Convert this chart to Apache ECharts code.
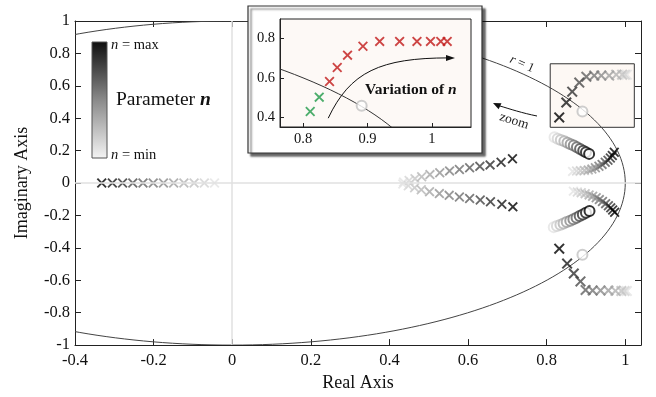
<!DOCTYPE html>
<html><head><meta charset="utf-8">
<script src="https://cdn.jsdelivr.net/npm/echarts@6/dist/echarts.min.js"></script>
<style>html,body{margin:0;padding:0;background:#fff}#c{width:656px;height:397px}</style>
</head><body><div id="c"></div>
<script>
// ---------- data (each list ordered from n = min to n = max) ----------
const realAxisPoles = [[-0.045,0],[-0.071,0],[-0.097,0],[-0.123,0],[-0.149,0],[-0.175,0],[-0.201,0],[-0.227,0],[-0.253,0],[-0.279,0],[-0.305,0],[-0.332,0]];
const midUpper = [[0.436,0.006],[0.450,0.016],[0.465,0.027],[0.482,0.039],[0.503,0.052],[0.528,0.064],[0.553,0.075],[0.578,0.084],[0.604,0.094],[0.630,0.103],[0.656,0.112],[0.684,0.128],[0.713,0.150]];
const midLower = [[0.434,-0.006],[0.448,-0.017],[0.464,-0.029],[0.481,-0.041],[0.502,-0.053],[0.527,-0.065],[0.552,-0.076],[0.578,-0.086],[0.604,-0.095],[0.631,-0.105],[0.657,-0.115],[0.686,-0.131],[0.714,-0.147]];
const zerosUpper = [[0.820,0.282],[0.828,0.274],[0.836,0.266],[0.845,0.258],[0.853,0.249],[0.861,0.240],[0.869,0.231],[0.877,0.221],[0.885,0.210],[0.893,0.200],[0.900,0.190],[0.908,0.180]];
const zerosLower = [[0.818,-0.272],[0.826,-0.265],[0.835,-0.257],[0.843,-0.249],[0.851,-0.241],[0.860,-0.232],[0.868,-0.223],[0.876,-0.214],[0.884,-0.204],[0.892,-0.194],[0.900,-0.184],[0.909,-0.173]];
const rimUpper = [[0.866,0.072],[0.876,0.074],[0.886,0.076],[0.896,0.078],[0.906,0.081],[0.915,0.086],[0.924,0.094],[0.933,0.104],[0.941,0.115],[0.949,0.128],[0.956,0.141],[0.962,0.155],[0.967,0.170],[0.972,0.190]];
const rimLower = [[0.868,-0.050],[0.878,-0.055],[0.888,-0.060],[0.898,-0.066],[0.908,-0.073],[0.917,-0.081],[0.926,-0.091],[0.934,-0.102],[0.942,-0.114],[0.950,-0.127],[0.957,-0.140],[0.963,-0.153],[0.968,-0.166],[0.973,-0.180]];
const outerUpper = [[1.004,0.669],[0.999,0.669],[0.992,0.669],[0.977,0.669],[0.959,0.663],[0.939,0.663],[0.921,0.663],[0.901,0.656],[0.883,0.620],[0.865,0.564],[0.850,0.497],[0.832,0.405]];
const outerLower = [[1.004,-0.666],[0.998,-0.666],[0.990,-0.666],[0.975,-0.665],[0.957,-0.663],[0.937,-0.663],[0.917,-0.663],[0.899,-0.660],[0.886,-0.607],[0.869,-0.558],[0.852,-0.497],[0.832,-0.405]];
const refRings = [[0.891,0.442],[0.891,-0.442]];
const zoomBox = [[0.809,0.344],[1.023,0.736]];
const unitCircle = [[0,0,1]];
// inset
const insetGreen = [[0.811,0.429],[0.825,0.502]];
const insetRed = [[0.841,0.582],[0.853,0.653],[0.869,0.716],[0.893,0.761],[0.919,0.786],[0.950,0.786],[0.977,0.786],[0.998,0.786],[1.014,0.786],[1.024,0.786]];
const insetRing = [[0.891,0.458]];
const insetXTicks = [0.8,0.9,1];
const insetYTicks = [0.4,0.6,0.8];
// ---------------------------------------------------------------------

const FONT = 'Liberation Serif';
const CROSS = 'path://M0,1.3L1.3,0L5,3.7L8.7,0L10,1.3L6.3,5L10,8.7L8.7,10L5,6.3L1.3,10L0,8.7L3.7,5Z';
const withLevel = arr => arr.map((p,i) => [p[0], p[1], arr.length > 1 ? i/(arr.length-1) : 1]);

function ellipseItem(stroke){
  return function(params, api){
    const c = api.coord([api.value(0), api.value(1)]);
    const r = api.value(2);
    const px = api.coord([api.value(0)+r, api.value(1)]);
    const py = api.coord([api.value(0), api.value(1)+r]);
    return {type:'ellipse', shape:{cx:c[0], cy:c[1], rx:Math.abs(px[0]-c[0]), ry:Math.abs(c[1]-py[1])},
            style:{fill:null, stroke:stroke, lineWidth:1}};
  };
}

function crossSeries(data, size){
  return {type:'scatter', xAxisIndex:0, yAxisIndex:0, symbol:CROSS, symbolSize:size||10,
          data:withLevel(data), z:4, silent:true, itemStyle:{borderWidth:0}};
}
function ringSeries(data){
  return {type:'scatter', xAxisIndex:0, yAxisIndex:0, symbol:'emptyCircle', symbolSize:10,
          data:withLevel(data), z:4, silent:true, itemStyle:{borderWidth:1.5}};
}

const axisLineStyle = {lineStyle:{color:'#222', width:1}};
const labelStyle = {color:'#111', fontFamily:FONT, fontSize:16.5};

const option = {
  animation:false,
  backgroundColor:'#fff',
  grid:[
    {left:75, top:21, right:15, bottom:50, show:false},
    {left:280, top:19, width:191, height:108, show:true, backgroundColor:'#fdf9f6', borderColor:'#222', borderWidth:1, z:11}
  ],
  xAxis:[
    {type:'value', gridIndex:0, min:-0.4, max:1.04, interval:0.2, position:'bottom',
     axisLine:{show:true, onZero:false, ...axisLineStyle}, axisTick:{inside:true, length:6, lineStyle:{color:'#222'}},
     axisLabel:{...labelStyle, margin:7, showMaxLabel:false}, splitLine:{show:false},
     name:'Real Axis', nameLocation:'middle', nameGap:26, nameTextStyle:{fontFamily:FONT, fontSize:18, color:'#111'}},
    {type:'value', gridIndex:0, min:-0.4, max:1.04, interval:0.2, position:'top',
     axisLine:{show:true, onZero:false, ...axisLineStyle}, axisTick:{inside:true, length:6, lineStyle:{color:'#222'}},
     axisLabel:{show:false}, splitLine:{show:false}},
    {type:'value', gridIndex:1, min:0.764, max:1.061, position:'bottom', z:12,
     axisLine:{show:true, onZero:false, ...axisLineStyle},
     axisTick:{inside:true, length:4, customValues:insetXTicks, lineStyle:{color:'#222'}},
     axisLabel:{color:'#111', fontFamily:FONT, fontSize:14.5, margin:5, customValues:insetXTicks}, splitLine:{show:false}}
  ],
  yAxis:[
    {type:'value', gridIndex:0, min:-1, max:1, interval:0.2, position:'left',
     axisLine:{show:true, onZero:false, ...axisLineStyle}, axisTick:{inside:true, length:6, lineStyle:{color:'#222'}},
     axisLabel:{...labelStyle, margin:5}, splitLine:{show:false},
     name:'Imaginary Axis', nameLocation:'middle', nameGap:44, nameRotate:90, nameTextStyle:{fontFamily:FONT, fontSize:18, color:'#111'}},
    {type:'value', gridIndex:0, min:-1, max:1, interval:0.2, position:'right',
     axisLine:{show:true, onZero:false, ...axisLineStyle}, axisTick:{inside:true, length:6, lineStyle:{color:'#222'}},
     axisLabel:{show:false}, splitLine:{show:false}},
    {type:'value', gridIndex:1, min:0.35, max:0.9, position:'left', z:12,
     axisLine:{show:true, onZero:false, ...axisLineStyle},
     axisTick:{inside:true, length:4, customValues:insetYTicks, lineStyle:{color:'#222'}},
     axisLabel:{color:'#111', fontFamily:FONT, fontSize:14.5, margin:5, customValues:insetYTicks}, splitLine:{show:false}}
  ],
  visualMap:{type:'continuous', show:false, min:0, max:1, dimension:2, seriesIndex:[2,3,4,5,6,7,8,9,10],
    inRange:{color:['#e4e4e4','#a6a6a6','#5c5c5c','#000000']}},
  series:[
    {type:'scatter', xAxisIndex:0, yAxisIndex:0, data:[[0,0]], symbolSize:0, z:1, silent:true,
     markLine:{silent:true, symbol:['none','none'], label:{show:false}, animation:false,
       lineStyle:{color:'#e0e0e0', width:1.5, type:'solid'}, data:[{xAxis:0},{yAxis:0}]},
     markArea:{silent:true, label:{show:false},
       itemStyle:{color:'#fdf8f4', borderColor:'#333', borderWidth:1},
       data:[[{coord:zoomBox[0]},{coord:zoomBox[1]}]]}},
    {type:'custom', xAxisIndex:0, yAxisIndex:0, data:unitCircle, clip:true, z:3, silent:true, renderItem:ellipseItem('#444')},
    crossSeries(realAxisPoles, 10),
    crossSeries(midUpper, 10),
    crossSeries(midLower, 10),
    ringSeries(zerosUpper),
    ringSeries(zerosLower),
    crossSeries(rimUpper, 10),
    crossSeries(rimLower, 10),
    crossSeries(outerUpper, 11),
    crossSeries(outerLower, 11),
    {type:'scatter', xAxisIndex:0, yAxisIndex:0, symbol:'emptyCircle', symbolSize:10, data:refRings, z:4, silent:true,
     itemStyle:{color:'#c2c2c2', borderWidth:1.8}},
    {type:'custom', xAxisIndex:2, yAxisIndex:2, data:unitCircle, clip:true, z:13, silent:true, renderItem:ellipseItem('#333')},
    {type:'scatter', xAxisIndex:2, yAxisIndex:2, symbol:CROSS, symbolSize:10, data:insetGreen, z:15, silent:true, itemStyle:{color:'#1f9a48'}},
    {type:'scatter', xAxisIndex:2, yAxisIndex:2, symbol:CROSS, symbolSize:10, data:insetRed, z:15, silent:true, itemStyle:{color:'#c01818'}},
    {type:'scatter', xAxisIndex:2, yAxisIndex:2, symbol:'emptyCircle', symbolSize:10, data:insetRing, z:15, silent:true, itemStyle:{color:'#c2c2c2', borderWidth:1.8}}
  ]
};

const chart = echarts.init(document.getElementById('c'), null, {renderer:'canvas'});
chart.setOption(option);

// ---------- annotations ----------
const mctx = document.createElement('canvas').getContext('2d');
function measure(txt, size, style, weight){
  mctx.font = (style||'normal')+' '+(weight||'normal')+' '+size+'px "'+FONT+'"';
  return mctx.measureText(txt).width;
}
// a run of text pieces placed one after another, each a plain text element
function textRun(x, y, pieces, z, rotation){
  const children = [];
  let cx = 0;
  pieces.forEach(p => {
    children.push({type:'text', z:z, x:cx, y:0, style:{text:p.t, fontFamily:FONT, fontSize:p.s,
      fontStyle:p.st||'normal', fontWeight:p.w||'normal', fill:p.c||'#111', verticalAlign:'middle'}});
    cx += measure(p.t, p.s, p.st, p.w);
  });
  return {type:'group', x:x, y:y, z:z, rotation:rotation||0, children:children};
}

const P = (x,y) => chart.convertToPixel({gridIndex:1}, [x,y]);
const a0 = P(0.839,0.395), a1 = P(0.873,0.631), a2 = P(0.920,0.702), a3 = P(1.027,0.702);
const tip = P(1.033,0.702);

const rW = measure('r',13,'italic') + measure(' = 1',13);

const graphics = [
  {type:'rect', z:10, shape:{x:248, y:6, width:234, height:147},
   style:{fill:'#fff', stroke:'#333', lineWidth:1.2, shadowBlur:2, shadowOffsetX:3, shadowOffsetY:3, shadowColor:'rgba(0,0,0,0.6)'}},
  {type:'bezierCurve', z:16, shape:{x1:a0[0], y1:a0[1], cpx1:a1[0], cpy1:a1[1], cpx2:a2[0], cpy2:a2[1], x2:a3[0], y2:a3[1]},
   style:{fill:null, stroke:'#111', lineWidth:1}},
  {type:'polygon', z:16, shape:{points:[[tip[0]+2, tip[1]],[tip[0]-7, tip[1]-3],[tip[0]-7, tip[1]+3]]}, style:{fill:'#111'}},
  textRun(365, 90, [{t:'Variation of ',s:15.5,w:'bold'},{t:'n',s:15.5,w:'bold',st:'italic'}], 16),
  {type:'rect', z:5, shape:{x:92, y:42, width:15, height:116},
   style:{stroke:'#555', lineWidth:1, fill:{type:'linear', x:0, y:0, x2:0, y2:1,
     colorStops:[{offset:0, color:'#0e0e0e'},{offset:0.5, color:'#8a8a8a'},{offset:1, color:'#f4f4f4'}]}}},
  textRun(111, 45, [{t:'n',s:14.5,st:'italic'},{t:' = max',s:14.5}], 5),
  textRun(111, 155, [{t:'n',s:14.5,st:'italic'},{t:' = min',s:14.5}], 5),
  textRun(116, 100, [{t:'Parameter ',s:19.5},{t:'n',s:19.5,st:'italic',w:'bold'}], 5),
  {type:'group', x:522, y:64, z:5, rotation:-0.42, children:[
    textRun(-rW/2, 0, [{t:'r',s:13,st:'italic',c:'#222'},{t:' = 1',s:13,c:'#222'}], 5)
  ]},
  {type:'bezierCurve', z:5, shape:{x1:537, y1:116, cpx1:522, cpy1:113, cpx2:510, cpy2:109, x2:500, y2:106},
   style:{fill:null, stroke:'#111', lineWidth:1}},
  {type:'polygon', z:5, shape:{points:[[493,103],[501.5,103.2],[498.6,109.3]]}, style:{fill:'#111'}},
  {type:'text', z:5, x:514, y:121, rotation:-0.3, style:{text:'zoom', align:'center', verticalAlign:'middle',
    fontFamily:FONT, fontSize:13.5, fill:'#222'}}
];
chart.setOption({graphic:graphics});
</script></body></html>
